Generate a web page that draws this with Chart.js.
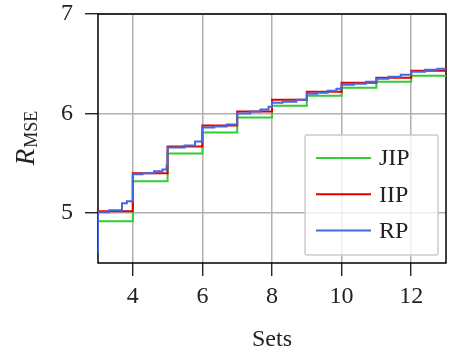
<!DOCTYPE html>
<html>
<head>
<meta charset="utf-8">
<script src="https://cdn.jsdelivr.net/npm/chart.js@4/dist/chart.umd.min.js"></script>
<style>
  html, body { margin: 0; padding: 0; background: #fff; }
  canvas { display: block; }
</style>
</head>
<body>
<canvas id="c" width="451" height="354"></canvas>
<script>
'use strict';

// ---- data ----
const SETS = [3, 4, 5, 6, 7, 8, 9, 10, 11, 12, 13];
const JIP = [4.92, 5.32, 5.60, 5.81, 5.96, 6.08, 6.18, 6.26, 6.32, 6.38, 6.38];
const IIP = [5.02, 5.40, 5.67, 5.88, 6.02, 6.14, 6.22, 6.31, 6.36, 6.43, 6.43];

// RP changes in finer steps
const RP_X = [3, 3, 3.32, 3.69, 3.83, 4, 4.28, 4.61, 4.85, 4.97, 5, 5.49, 5.79, 6, 6.34, 6.70,
              7, 7.38, 7.67, 7.9, 8, 8.3, 8.7, 9, 9.3, 9.6, 9.85, 10, 10.35, 10.7,
              11, 11.35, 11.7, 12, 12.4, 12.75, 13];
const RP_Y = [4.60, 5.01, 5.03, 5.10, 5.12, 5.39, 5.40, 5.42, 5.44, 5.48, 5.66, 5.68, 5.72, 5.86, 5.87, 5.89,
              6.00, 6.02, 6.04, 6.07, 6.11, 6.12, 6.14, 6.20, 6.21, 6.23, 6.25, 6.29, 6.30, 6.32,
              6.35, 6.37, 6.39, 6.42, 6.44, 6.45, 6.45];

const X_TICKS = [4, 6, 8, 10, 12];
const Y_TICKS = [5, 6, 7];

const SERIF = "'Liberation Serif', 'DejaVu Serif', serif";

function pts(xs, ys) {
  return xs.map((x, i) => ({ x, y: ys[i] }));
}

// frame around plot area
const framePlugin = {
  id: 'frame',
  beforeDatasetsDraw(chart) {
    const { ctx, chartArea: a } = chart;
    ctx.save();
    ctx.strokeStyle = '#000';
    ctx.lineWidth = 1.5;
    ctx.strokeRect(a.left, a.top, a.right - a.left, a.bottom - a.top);
    ctx.restore();
  }
};

// axis titles (y one has a subscript)
const titlesPlugin = {
  id: 'titles',
  afterDraw(chart) {
    const { ctx, chartArea: a } = chart;
    ctx.save();
    ctx.fillStyle = '#222';
    ctx.textBaseline = 'alphabetic';

    ctx.font = `24px ${SERIF}`;
    ctx.textAlign = 'center';
    ctx.fillText('Sets', (a.left + a.right) / 2, 346);

    // R_MSE rotated
    ctx.translate(35, (a.top + a.bottom) / 2);
    ctx.rotate(-Math.PI / 2);
    ctx.textAlign = 'left';
    ctx.font = `italic 27px ${SERIF}`;
    const rW = ctx.measureText('R').width;
    ctx.font = `18px ${SERIF}`;
    const sW = ctx.measureText('MSE').width;
    const x0 = -(rW + sW) / 2;
    ctx.font = `italic 27px ${SERIF}`;
    ctx.fillText('R', x0, -1);
    ctx.font = `18px ${SERIF}`;
    ctx.fillText('MSE', x0 + rW + 1, 2);
    ctx.restore();
  }
};

// legend box in lower right
const legendPlugin = {
  id: 'boxLegend',
  afterDatasetsDraw(chart) {
    const { ctx } = chart;
    const bx = 305, by = 135, bw = 133, bh = 120;
    ctx.save();
    ctx.fillStyle = 'rgba(255,255,255,0.8)';
    ctx.strokeStyle = '#cccccc';
    ctx.lineWidth = 1.5;
    ctx.beginPath();
    ctx.roundRect(bx, by, bw, bh, 2);
    ctx.fill();
    ctx.stroke();
    ctx.font = `24px ${SERIF}`;
    ctx.textBaseline = 'middle';
    ctx.textAlign = 'left';
    chart.data.datasets.forEach((ds, i) => {
      const y = 158 + i * 36.3;
      ctx.strokeStyle = ds.borderColor;
      ctx.lineWidth = 2;
      ctx.beginPath();
      ctx.moveTo(316, y);
      ctx.lineTo(371, y);
      ctx.stroke();
      ctx.fillStyle = '#222';
      ctx.fillText(ds.label, 379, y + 1);
    });
    ctx.restore();
  }
};

const common = { borderWidth: 2, pointRadius: 0, stepped: true, fill: false, tension: 0 };

new Chart(document.getElementById('c'), {
  type: 'line',
  data: {
    datasets: [
      { label: 'JIP', data: pts(SETS, JIP), borderColor: '#33cc33', order: 3, ...common },
      { label: 'IIP', data: pts(SETS, IIP), borderColor: '#e00000', order: 2, ...common },
      { label: 'RP', data: pts(RP_X, RP_Y), borderColor: '#4169e1', order: 1, ...common },
    ]
  },
  options: {
    responsive: false,
    animation: false,
    devicePixelRatio: 1,
    layout: { padding: { top: 14, right: 5, left: 0, bottom: 0 } },
    plugins: { legend: { display: false }, tooltip: { enabled: false } },
    scales: {
      x: {
        type: 'linear', min: 3, max: 13,
        afterBuildTicks: s => { s.ticks = X_TICKS.map(v => ({ value: v })); },
        afterFit: s => { s.height = 91; s.paddingLeft = 0; s.paddingRight = 0; },
        grid: { color: '#b0b0b0', lineWidth: 1.5, tickColor: '#000', tickLength: 13, tickWidth: 1.2 },
        border: { display: false },
        ticks: { color: '#222', padding: 6, maxRotation: 0, font: { family: SERIF, size: 24 } },
      },
      y: {
        type: 'linear', min: 4.5, max: 7,
        afterBuildTicks: s => { s.ticks = Y_TICKS.map(v => ({ value: v })); },
        afterFit: s => { s.width = 98; s.paddingTop = 0; s.paddingBottom = 0; },
        grid: { color: '#b0b0b0', lineWidth: 1.5, tickColor: '#000', tickLength: 13, tickWidth: 1.2 },
        border: { display: false },
        ticks: { color: '#222', padding: 12, font: { family: SERIF, size: 24 } },
      }
    }
  },
  plugins: [framePlugin, legendPlugin, titlesPlugin]
});
</script>
</body>
</html>
